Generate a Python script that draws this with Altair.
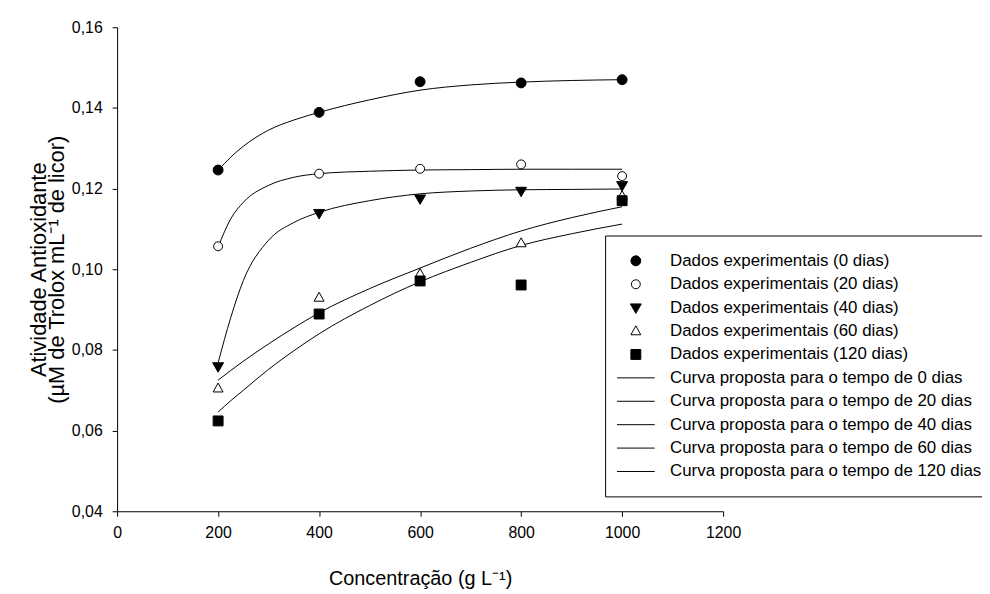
import altair as alt
import pandas as pd

# ---------------- data ----------------
conc = [200, 400, 600, 800, 1000]
dados_0 = [0.1246, 0.1389, 0.1465, 0.1462, 0.1470]
dados_20 = [0.1057, 0.1237, 0.1249, 0.1260, 0.1231]
dados_40 = [0.0759, 0.1139, 0.1175, 0.1194, 0.1208]
dados_60 = [0.0705, 0.0930, 0.0989, 0.1065, 0.1182]
dados_120 = [0.0624, 0.0889, 0.0971, 0.0961, 0.1170]

curve_x = [200, 225, 250, 300, 350, 400, 500, 600, 700, 800, 900, 1000]
curva_0 = [0.1245, 0.1278, 0.1305, 0.1345, 0.1370, 0.1389, 0.1420, 0.1444, 0.1457, 0.1464, 0.1468, 0.1470]
curva_20 = [0.1055, 0.1125, 0.1166, 0.1208, 0.1228, 0.1237, 0.1243, 0.1246, 0.1247, 0.1248, 0.1248, 0.1248]
curva_40 = [0.0768, 0.0880, 0.0972, 0.1072, 0.1116, 0.1141, 0.1170, 0.1187, 0.1194, 0.1197, 0.1198, 0.1199]
curva_60 = [0.0725, 0.0749, 0.0772, 0.0815, 0.0855, 0.0892, 0.0952, 0.1003, 0.1052, 0.1095, 0.1128, 0.1155]
curva_120 = [0.0646, 0.0674, 0.0700, 0.0752, 0.0798, 0.0840, 0.0910, 0.0969, 0.1017, 0.1059, 0.1088, 0.1112]

dias = ["0", "20", "40", "60", "120"]
point_labels = [f"Dados experimentais ({d} dias)" for d in dias]
curve_labels = [f"Curva proposta para o tempo de {d} dias" for d in dias]
all_labels = point_labels + curve_labels

x_ticks = [0, 200, 400, 600, 800, 1000, 1200]
y_ticks = [0.04, 0.06, 0.08, 0.10, 0.12, 0.14, 0.16]

# ---------------- tables ----------------
pts_rows = []
for lab, ys in zip(point_labels, [dados_0, dados_20, dados_40, dados_60, dados_120]):
    for xv, yv in zip(conc, ys):
        pts_rows.append({"x": xv, "y": yv, "serie": lab})
df_pts = pd.DataFrame(pts_rows)

cur_rows = []
for lab, ys in zip(curve_labels, [curva_0, curva_20, curva_40, curva_60, curva_120]):
    for xv, yv in zip(curve_x, ys):
        cur_rows.append({"x": xv, "y": yv, "serie": lab})
df_cur = pd.DataFrame(cur_rows)

FONT = "Liberation Sans, Arial, sans-serif"

# marker glyphs (unit = 5 px at symbol size 100)
CIRCLE_F = "M-1,0A1,1,0,1,1,1,0A1,1,0,1,1,-1,0Z"
CIRCLE_O = "M-0.9,0A0.9,0.9,0,1,1,0.9,0A0.9,0.9,0,1,1,-0.9,0Z"
TRI_DOWN = "M-1.1,-0.75L1.1,-0.75L0,1.15Z"
TRI_UP = "M-1,0.75L1,0.75L0,-1.05Z"
SQUARE = "M-1,-1L1,-1L1,1L-1,1Z"
LINE = "M-3.8,0L3.8,0"

shape_range = [CIRCLE_F, CIRCLE_O, TRI_DOWN, TRI_UP, SQUARE] + [LINE] * 5
fill_range = ["black", "white", "black", "white", "black"] + ["transparent"] * 5
stroke_range = ["black"] * 10

legend = alt.Legend(
    title=None, orient="none", legendX=492, legendY=210,
    strokeColor="black", fillColor="white", padding=17,
    labelFont=FONT, labelFontSize=17, labelColor="black", labelLimit=600,
    labelOffset=26, symbolOffset=5.5, rowPadding=5.6, symbolSize=100,
    symbolStrokeColor="black", symbolStrokeWidth=1,
)

x_enc = alt.X("x:Q", scale=alt.Scale(domain=[0, 1200], nice=False, zero=False),
              axis=alt.Axis(values=x_ticks, format="d", title="Concentração (g L⁻¹)",
                            titleX=305.5, titleY=74, titleBaseline="alphabetic",
                            titleAnchor="middle", titleFontSize=20,
                            labelPadding=8, labelFlush=False))
y_enc = alt.Y("y:Q", scale=alt.Scale(domain=[0.04, 0.16], nice=False, zero=False),
              axis=alt.Axis(values=y_ticks,
                            labelExpr="replace(format(datum.value, '.2f'), '.', ',')",
                            title=["Atividade Antioxidante", "(µM de Trolox mL⁻¹ de licor)"],
                            titleAngle=270, titleX=-72, titleY=244, titleAlign="center",
                            titleBaseline="alphabetic", titleLineHeight=18, titleFontSize=22,
                            labelPadding=10, labelFlush=False))

lines = alt.Chart(df_cur).mark_line(color="black", strokeWidth=1, interpolate="monotone").encode(
    x=x_enc, y=y_enc, detail="serie:N", order="x:Q"
)

points = alt.Chart(df_pts).mark_point(filled=True, strokeWidth=1, opacity=1, size=100).encode(
    x=x_enc, y=y_enc,
    shape=alt.Shape("serie:N", scale=alt.Scale(domain=all_labels, range=shape_range), legend=legend),
    fill=alt.Fill("serie:N", scale=alt.Scale(domain=all_labels, range=fill_range), legend=legend),
    stroke=alt.Stroke("serie:N", scale=alt.Scale(domain=all_labels, range=stroke_range), legend=legend),
)

chart = alt.layer(lines, points).properties(
    width=611, height=488,
    autosize=alt.AutoSizeParams(type="none"),
    padding={"left": 110, "top": 17, "right": 261, "bottom": 80},
).configure_view(stroke=None).configure_axis(
    grid=False, domainColor="black", tickColor="black", tickSize=5, domainWidth=1, tickWidth=1,
    labelFont=FONT, labelFontSize=16, labelColor="black",
    titleFont=FONT, titleColor="black", titleFontWeight="normal",
)

chart.save("out.html", embed_options={"renderer": "svg", "actions": False})
